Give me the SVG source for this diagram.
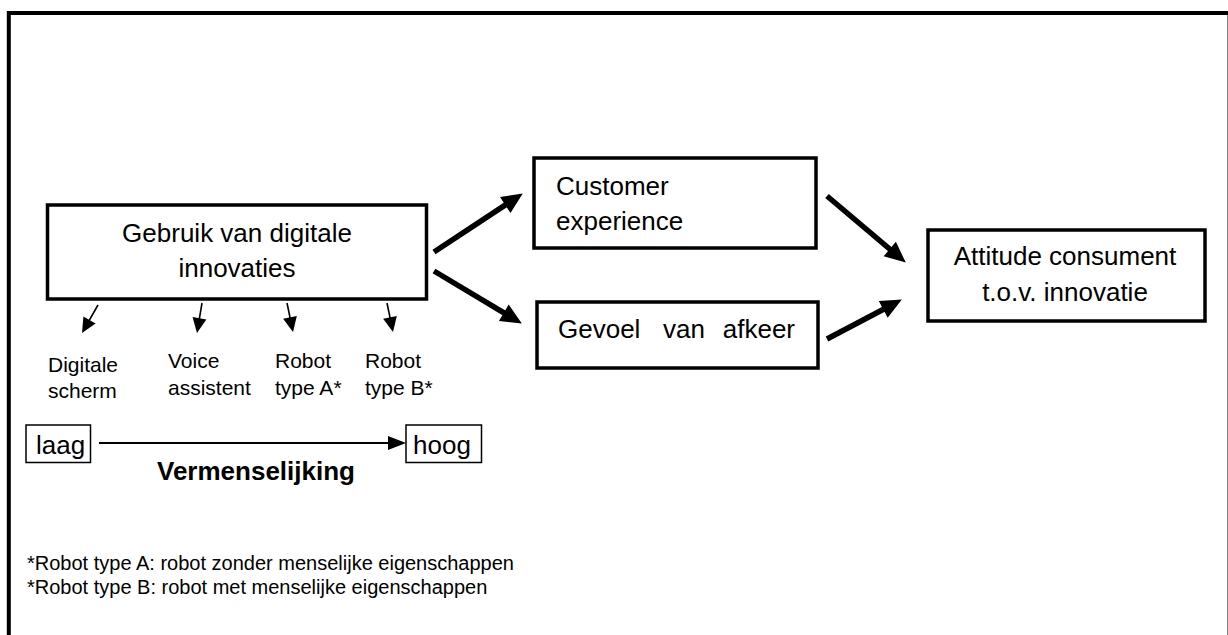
<svg xmlns="http://www.w3.org/2000/svg" width="1228" height="635" viewBox="0 0 1228 635">
<defs>
<style>
.t{font-family:"Liberation Sans",Arial,sans-serif;fill:#000}
.big{font-size:26px}
.sm{font-size:21px}
.fn{font-size:20px}
.box{fill:#fff;stroke:#000;stroke-width:3.5}
.tbox{fill:#fff;stroke:#000;stroke-width:1.5}
.thick{stroke:#000;stroke-width:5.5;fill:none}
.thin{stroke:#000;stroke-width:1.6;fill:none}
</style>
<marker id="hb" markerUnits="userSpaceOnUse" markerWidth="24" markerHeight="20" refX="10" refY="9.5" orient="auto" overflow="visible"><path d="M0,0 L21,9.5 L0,19 z" fill="#000"/></marker>
<marker id="hs" markerUnits="userSpaceOnUse" markerWidth="16" markerHeight="14" refX="10" refY="7" orient="auto" overflow="visible"><path d="M0,0 L15,7 L0,14 z" fill="#000"/></marker>
<marker id="hh" markerUnits="userSpaceOnUse" markerWidth="18" markerHeight="14" refX="12" refY="7" orient="auto" overflow="visible"><path d="M0,0 L18,7 L0,14 z" fill="#000"/></marker>
</defs>
<rect width="1228" height="635" fill="#fff"/>
<path d="M8.8,640 V13 H1228" fill="none" stroke="#000" stroke-width="4"/>
<line x1="1227.5" y1="15" x2="1227.5" y2="635" stroke="#808080" stroke-width="1"/>

<g id="connectors">
<line class="thick" x1="434" y1="252" x2="513.6" y2="199.5" marker-end="url(#hb)"/>
<line class="thick" x1="434" y1="271" x2="512.4" y2="317.9" marker-end="url(#hb)"/>
<line class="thick" x1="827" y1="196" x2="897.4" y2="255.5" marker-end="url(#hb)"/>
<line class="thick" x1="827" y1="339" x2="892.1" y2="304.7" marker-end="url(#hb)"/>
<line class="thin" x1="98" y1="305" x2="84.5" y2="328.6" marker-end="url(#hs)"/>
<line class="thin" x1="202" y1="303" x2="197.8" y2="328.1" marker-end="url(#hs)"/>
<line class="thin" x1="287" y1="303" x2="292" y2="327.1" marker-end="url(#hs)"/>
<line class="thin" x1="387" y1="303" x2="392" y2="327.1" marker-end="url(#hs)"/>
<line x1="99" y1="443" x2="400" y2="443" stroke="#000" stroke-width="2" marker-end="url(#hh)"/>
</g>

<g id="gebruik">
<rect class="box" x="47.5" y="205" width="379" height="94"/>
<text class="t big" x="237" y="242" text-anchor="middle">Gebruik van digitale</text>
<text class="t big" x="237" y="277" text-anchor="middle">innovaties</text>
</g>

<g id="customer">
<rect class="box" x="534" y="158" width="282" height="90"/>
<text class="t big" x="556" y="195">Customer</text>
<text class="t big" x="556" y="230">experience</text>
</g>

<g id="afkeer">
<rect class="box" x="537" y="302" width="281" height="66"/>
<text class="t big" x="558" y="338">Gevoel</text>
<text class="t big" x="684" y="338" text-anchor="middle">van</text>
<text class="t big" x="795" y="338" text-anchor="end">afkeer</text>
</g>

<g id="attitude">
<rect class="box" x="928" y="230" width="277" height="91"/>
<text class="t big" x="1065" y="265" text-anchor="middle">Attitude consument</text>
<text class="t big" x="1065" y="301" text-anchor="middle">t.o.v. innovatie</text>
</g>

<g id="digitale-scherm">
<text class="t sm" x="48" y="372">Digitale</text>
<text class="t sm" x="48" y="398">scherm</text>
</g>
<g id="voice-assistent">
<text class="t sm" x="168" y="368">Voice</text>
<text class="t sm" x="168" y="395">assistent</text>
</g>
<g id="robot-a">
<text class="t sm" x="275" y="368">Robot</text>
<text class="t sm" x="275" y="395">type A*</text>
</g>
<g id="robot-b">
<text class="t sm" x="365" y="368">Robot</text>
<text class="t sm" x="365" y="395">type B*</text>
</g>

<g id="laag">
<rect class="tbox" x="26" y="425" width="64.5" height="37.5"/>
<text class="t big" x="36" y="454">laag</text>
</g>
<g id="hoog">
<rect class="tbox" x="406" y="425" width="75.5" height="37.5"/>
<text class="t big" x="413" y="454">hoog</text>
</g>
<g id="vermenselijking">
<text class="t big" x="256" y="480" text-anchor="middle" font-weight="bold">Vermenselijking</text>
</g>

<g id="footnotes">
<text class="t fn" x="27" y="570">*Robot type A: robot zonder menselijke eigenschappen</text>
<text class="t fn" x="27" y="594">*Robot type B: robot met menselijke eigenschappen</text>
</g>
</svg>
